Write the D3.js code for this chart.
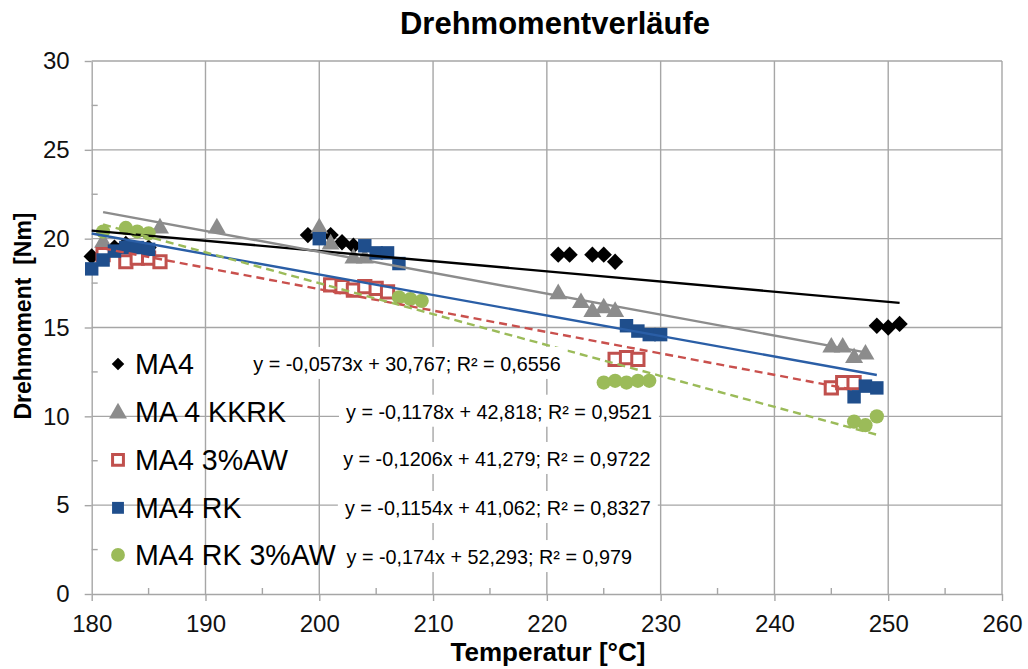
<!DOCTYPE html>
<html>
<head>
<meta charset="utf-8">
<script src="https://cdn.jsdelivr.net/npm/d3@7"></script>
<style>
  html, body { margin: 0; padding: 0; background: #fff; }
  svg { display: block; font-family: "Liberation Sans", Arial, sans-serif; }
</style>
</head>
<body>
<svg id="chart" width="1028" height="669"></svg>
<script>
// Torque measurements per material variant (temperature in °C, torque in Nm)
const seriesNames = ["MA4", "MA 4 KKRK", "MA4 3%AW", "MA4 RK", "MA4 RK 3%AW"];

const ma4Temp   = [180, 182, 183, 185, 199, 201, 202, 203, 221, 222, 224, 225, 226, 249, 250, 251];
const ma4Torque = [19.0, 19.5, 19.7, 19.5, 20.2, 20.2, 19.8, 19.6, 19.1, 19.1, 19.1, 19.1, 18.7, 15.1, 15.0, 15.2];

const kkrkTemp   = [181, 186, 191, 200, 201, 203, 204, 221, 223, 224, 225, 226, 245, 246, 247, 248];
const kkrkTorque = [19.9, 20.7, 20.7, 20.7, 19.8, 19.0, 19.0, 17.0, 16.5, 16.0, 16.2, 16.0, 14.0, 14.0, 13.4, 13.6];

const awTemp   = [181, 183, 184, 185, 186, 201, 202, 203, 204, 205, 206, 226, 227, 228, 245, 246, 247];
const awTorque = [19.1, 18.7, 18.9, 18.9, 18.7, 17.4, 17.3, 17.1, 17.3, 17.2, 17.0, 13.2, 13.3, 13.2, 11.6, 11.9, 11.9];

const rkTemp   = [180, 181, 182, 183, 184, 185, 200, 204, 205, 206, 207, 227, 228, 229, 230, 247, 248, 249];
const rkTorque = [18.3, 18.8, 19.3, 19.5, 19.5, 19.4, 20.0, 19.6, 19.2, 19.2, 18.6, 15.1, 14.8, 14.6, 14.6, 11.1, 11.7, 11.6];

const rkAwTemp   = [181, 183, 184, 185, 207, 208, 209, 225, 226, 227, 228, 229, 247, 248, 249];
const rkAwTorque = [20.4, 20.6, 20.4, 20.3, 16.7, 16.6, 16.5, 11.9, 12.0, 11.9, 12.0, 12.0, 9.7, 9.5, 10.0];

// Linear trend fits (slope, intercept, R²)
const trendSlope     = [-0.0573, -0.1178, -0.1206, -0.1154, -0.174];
const trendIntercept = [30.767, 42.818, 41.279, 41.062, 52.293];
const trendR2        = ["0,6556", "0,9521", "0,9722", "0,8327", "0,979"];

const xTicks = [180, 190, 200, 210, 220, 230, 240, 250, 260];
const yTicks = [0, 5, 10, 15, 20, 25, 30];

// ---- styling ----
const colors   = ["#000000", "#8c8c8c", "#c0504d", "#1f4e8c", "#9bbb59"];
const lineCol  = ["#000000", "#8c8c8c", "#c9504d", "#2a5ea6", "#9bbb59"];
const dashed   = [false, false, true, false, true];
const gridCol  = "#a6a6a6";

const svg = d3.select("#chart");
const x = d3.scaleLinear().domain([180, 260]).range([91.7, 1002]);
const y = d3.scaleLinear().domain([0, 30]).range([594, 61]);

const fmtNum = v => String(v).replace(".", ",");

// ---- gridlines ----
const grid = svg.append("g");
grid.selectAll("line.gx").data(xTicks.slice(1)).join("line")
  .attr("x1", d => x(d)).attr("x2", d => x(d))
  .attr("y1", y(0)).attr("y2", y(30))
  .attr("stroke", gridCol).attr("stroke-width", 1.4);
grid.selectAll("line.gy").data(yTicks.slice(1)).join("line")
  .attr("x1", x(180)).attr("x2", x(260))
  .attr("y1", d => y(d)).attr("y2", d => y(d))
  .attr("stroke", gridCol).attr("stroke-width", 1.4);

// ---- axes ----
const xAxis = svg.append("g").attr("transform", `translate(0,${y(0)})`)
  .call(d3.axisBottom(x).tickValues(xTicks).tickSize(7).tickPadding(14).tickSizeOuter(0));
const yAxis = svg.append("g").attr("transform", `translate(${x(180)},0)`)
  .call(d3.axisLeft(y).tickValues(yTicks).tickSize(7).tickPadding(15).tickSizeOuter(0));
[xAxis, yAxis].forEach(a => {
  a.select(".domain").attr("stroke", gridCol).attr("stroke-width", 1.4);
  a.selectAll(".tick line").attr("stroke", gridCol).attr("stroke-width", 1.4);
  a.selectAll(".tick text").attr("fill", "#111").style("font-size", "24px")
    .style("font-family", "'Liberation Sans', Arial, sans-serif");
});

// minor ticks, pointing into the plot
const minorX = d3.range(185, 260, 10);
const minorY = d3.range(2.5, 30, 5);
svg.append("g").selectAll("line").data(minorX).join("line")
  .attr("x1", d => x(d)).attr("x2", d => x(d))
  .attr("y1", y(0)).attr("y2", y(0) - 6)
  .attr("stroke", gridCol).attr("stroke-width", 1.4);
svg.append("g").selectAll("line").data(minorY).join("line")
  .attr("x1", x(180)).attr("x2", x(180) + 6)
  .attr("y1", d => y(d)).attr("y2", d => y(d))
  .attr("stroke", gridCol).attr("stroke-width", 1.4);

// ---- markers ----
const series = [
  { t: ma4Temp,   v: ma4Torque,   shape: d3.symbolDiamond2, size: 170, fill: true },
  { t: kkrkTemp,  v: kkrkTorque,  shape: d3.symbolTriangle, size: 140, fill: true },
  { t: awTemp,    v: awTorque,    shape: d3.symbolSquare2,  size: 190, fill: false },
  { t: rkTemp,    v: rkTorque,    shape: d3.symbolSquare2,  size: 230, fill: true },
  { t: rkAwTemp,  v: rkAwTorque,  shape: d3.symbolCircle,   size: 160, fill: true },
];

function markerPath(s, size) { return d3.symbol().type(s.shape).size(size)(); }

series.forEach((s, i) => {
  const pts = s.t.map((t, k) => ({ t, v: s.v[k] }));
  const g = svg.append("g");
  g.selectAll("path").data(pts).join("path")
    .attr("transform", d => `translate(${x(d.t)},${y(d.v) + (s.shape === d3.symbolTriangle ? 2 : 0)})`)
    .attr("d", markerPath(s, s.size))
    .attr("fill", s.fill ? colors[i] : "#fff")
    .attr("stroke", colors[i])
    .attr("stroke-width", s.fill ? 0 : 3);
});

// ---- trend lines over each series' temperature range ----
series.forEach((s, i) => {
  const [t0, t1] = d3.extent(s.t);
  const f = t => trendSlope[i] * t + trendIntercept[i];
  svg.append("line")
    .attr("x1", x(t0)).attr("y1", y(f(t0)))
    .attr("x2", x(t1)).attr("y2", y(f(t1)))
    .attr("stroke", lineCol[i])
    .attr("stroke-width", 2.4)
    .attr("stroke-dasharray", dashed[i] ? "8,5" : null);
});

// ---- trend equation labels (white boxes) ----
const eqAnchorT = [194.2, 202.35, 202.1, 202.25, 202.4];
const eqAnchorV = [12.95, 10.26, 7.6, 4.84, 2.08];
const eqG = svg.append("g");
trendSlope.forEach((m, i) => {
  const label = `y = ${fmtNum(m)}x + ${fmtNum(trendIntercept[i].toFixed(3))}; R² = ${trendR2[i]}`;
  const gx = x(eqAnchorT[i]), gy = y(eqAnchorV[i]);
  const g = eqG.append("g");
  const rect = g.append("rect").attr("fill", "#fff");
  const txt = g.append("text")
    .attr("x", gx).attr("y", gy + 7)
    .attr("fill", "#000")
    .style("font-size", "19.8px")
    .text(label);
  const bb = txt.node().getBBox();
  rect.attr("x", bb.x - 7).attr("y", gy - 17).attr("width", bb.width + 14).attr("height", 32);
});

// ---- legend ----
const legRowV = [12.95, 10.26, 7.55, 4.85, 2.2];
const legG = svg.append("g");
series.forEach((s, i) => {
  const cy = y(legRowV[i]);
  const lsize = [100, 140, 150, 180, 150][i];
  legG.append("path")
    .attr("transform", `translate(118,${cy + (s.shape === d3.symbolTriangle ? 1.5 : 0)})`)
    .attr("d", markerPath(s, lsize))
    .attr("fill", s.fill ? colors[i] : "#fff")
    .attr("stroke", colors[i])
    .attr("stroke-width", s.fill ? 0 : 3);
  legG.append("text")
    .attr("x", 135).attr("y", cy + 10)
    .attr("fill", "#000")
    .style("font-size", "28.6px")
    .text(seriesNames[i]);
});

// ---- titles ----
svg.append("text")
  .attr("x", 555).attr("y", 33.5)
  .attr("text-anchor", "middle")
  .style("font-size", "31px").style("font-weight", "bold")
  .text("Drehmomentverläufe");

svg.append("text")
  .attr("x", 548).attr("y", 661)
  .attr("text-anchor", "middle")
  .style("font-size", "26px").style("font-weight", "bold")
  .text("Temperatur [°C]");

svg.append("text")
  .attr("transform", "translate(31,316) rotate(-90)")
  .attr("text-anchor", "middle")
  .style("font-size", "23px").style("font-weight", "bold")
  .style("white-space", "pre")
  .text("Drehmoment  [Nm]");
</script>
</body>
</html>
